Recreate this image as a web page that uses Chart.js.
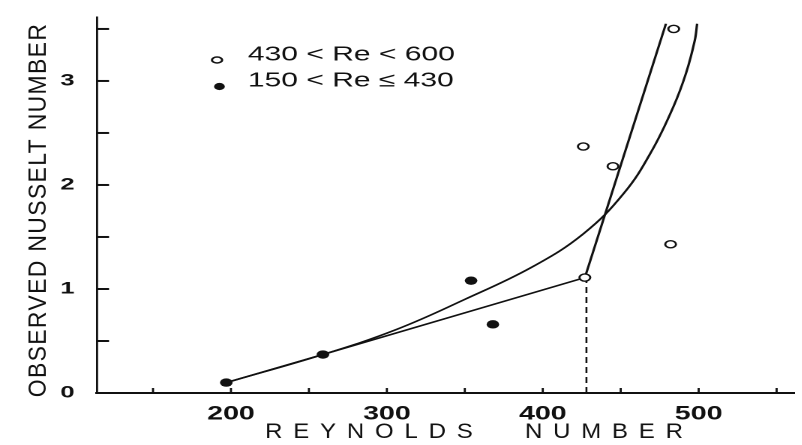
<!DOCTYPE html>
<html>
<head>
<meta charset="utf-8">
<script src="https://cdn.jsdelivr.net/npm/chart.js@4"></script>
<style>
  html, body { margin: 0; padding: 0; background: #fff; overflow: hidden; }
  /* the scanned figure is stretched sideways, so draw narrow and widen it */
  #nusselt { display: block; transform: scaleX(1.5); transform-origin: 0 0; }
</style>
</head>
<body>
<canvas id="nusselt" width="535" height="445"></canvas>
<script>
// values
const filledRe = [197, 259, 354, 368];
const filledNu = [0.10, 0.37, 1.08, 0.66];
const openRe = [427, 426, 445, 482, 484];
const openNu = [1.11, 2.37, 2.18, 1.43, 3.50];
const fitRe = [197, 259, 427, 479];
const fitNu = [0.10, 0.37, 1.11, 3.55];
const curveRe = [197, 259, 306, 350, 393, 426, 452, 470, 484, 492, 497.5, 499];
const curveNu = [0.10, 0.37, 0.61, 0.90, 1.21, 1.53, 1.92, 2.33, 2.76, 3.08, 3.39, 3.55];
const dropRe = [428, 428];
const dropNu = [0, 1.11];

const xTickLabels = [200, 300, 400, 500];
const yTickLabels = [0, 1, 2, 3];
const legendLabels = ['430 < Re < 600', '150 < Re \u2264 430'];
const xTitle = ['REYNOLDS', 'NUMBER'];
const yTitle = 'OBSERVED NUSSELT NUMBER';

const ink = '#111';
const pts = (xs, ys) => xs.map((x, i) => ({ x: x, y: ys[i] }));

Chart.defaults.font.family = '"Liberation Sans", Arial, sans-serif';
Chart.defaults.color = ink;

// inward tick marks, legend and axis titles
const paperText = {
    id: 'paperText',
    afterDraw(chart) {
        const ctx = chart.ctx;
        const area = chart.chartArea;
        const xs = chart.scales.x;
        const ys = chart.scales.y;
        ctx.save();
        ctx.fillStyle = ink;
        ctx.strokeStyle = ink;

        // ticks pointing into the plot
        ctx.lineWidth = 2;
        ys.ticks.forEach(t => {
            const py = ys.getPixelForValue(t.value);
            ctx.beginPath();
            ctx.moveTo(area.left, py);
            ctx.lineTo(area.left + 8, py);
            ctx.stroke();
        });
        ctx.lineWidth = 1.4;
        xs.ticks.forEach(t => {
            const px = xs.getPixelForValue(t.value);
            ctx.beginPath();
            ctx.moveTo(px, area.bottom);
            ctx.lineTo(px, area.bottom - 5);
            ctx.stroke();
        });

        // legend
        ctx.font = '20px "Liberation Sans"';
        ctx.textBaseline = 'middle';
        ctx.textAlign = 'left';
        ctx.fillText(legendLabels[0], 165.3, 55);
        ctx.fillText(legendLabels[1], 165.3, 81);
        ctx.lineWidth = 1.5;
        ctx.beginPath();
        ctx.ellipse(144.7, 60, 3.4, 3, 0, 0, 2 * Math.PI);
        ctx.stroke();
        ctx.beginPath();
        ctx.arc(146.3, 86.5, 3.6, 0, 2 * Math.PI);
        ctx.fill();

        // x title
        ctx.save();
        ctx.font = '16px "Liberation Sans"';
        ctx.letterSpacing = '7.2px';
        ctx.translate(0, 432.5);
        ctx.scale(1, 1.3);
        ctx.fillText(xTitle[0], 176.7, 0);
        ctx.fillText(xTitle[1], 350, 0);
        ctx.restore();

        // y title
        ctx.save();
        ctx.translate(26, 210);
        ctx.rotate(-Math.PI / 2);
        ctx.scale(1.35, 1);
        ctx.font = '17px "Liberation Sans"';
        ctx.letterSpacing = '1px';
        ctx.textAlign = 'center';
        ctx.fillText(yTitle, 0, 0);
        ctx.restore();

        ctx.restore();
    }
};

new Chart(document.getElementById('nusselt'), {
    type: 'scatter',
    data: {
        datasets: [
            {
                label: legendLabels[0],
                data: pts(openRe, openNu),
                pointRadius: 3.6,
                pointBorderWidth: 1.4,
                pointBackgroundColor: '#fff',
                pointBorderColor: ink
            },
            {
                label: legendLabels[1],
                data: pts(filledRe, filledNu),
                pointRadius: 4.2,
                pointBorderWidth: 0,
                pointBackgroundColor: ink
            },
            {
                label: 'fit',
                data: pts(fitRe, fitNu),
                showLine: true,
                pointRadius: 0,
                borderColor: ink,
                borderWidth: 1.6,
                tension: 0
            },
            {
                label: 'curve',
                data: pts(curveRe, curveNu),
                showLine: true,
                pointRadius: 0,
                borderColor: ink,
                borderWidth: 1.6,
                tension: 0.4
            },
            {
                label: 'drop',
                data: pts(dropRe, dropNu),
                showLine: true,
                pointRadius: 0,
                borderColor: ink,
                borderWidth: 1.3,
                borderDash: [6, 4]
            }
        ]
    },
    options: {
        responsive: false,
        devicePixelRatio: 2,
        animation: false,
        events: [],
        layout: { padding: { top: 10, right: 0, bottom: 0, left: 0 } },
        plugins: {
            legend: { display: false },
            tooltip: { enabled: false }
        },
        scales: {
            x: {
                type: 'linear',
                min: 114.1,
                max: 561.4,
                afterFit: (s) => { s.height = 52; },
                border: { color: ink, width: 2 },
                grid: { display: false },
                ticks: {
                    stepSize: 50,
                    includeBounds: false,
                    autoSkip: false,
                    maxRotation: 0,
                    padding: 2,
                    color: ink,
                    font: { size: 19, weight: 'bold' },
                    callback: (v) => xTickLabels.includes(v) ? String(v) : ''
                }
            },
            y: {
                type: 'linear',
                min: 0,
                max: 3.613,
                afterFit: (s) => { s.width = 64.7; },
                border: { color: ink, width: 1.4 },
                grid: { display: false },
                ticks: {
                    stepSize: 0.5,
                    includeBounds: false,
                    padding: 7,
                    color: ink,
                    font: { size: 17, weight: 'bold' },
                    callback: (v) => yTickLabels.includes(v) ? String(v) : ''
                }
            }
        }
    },
    plugins: [paperText]
});
</script>
</body>
</html>
